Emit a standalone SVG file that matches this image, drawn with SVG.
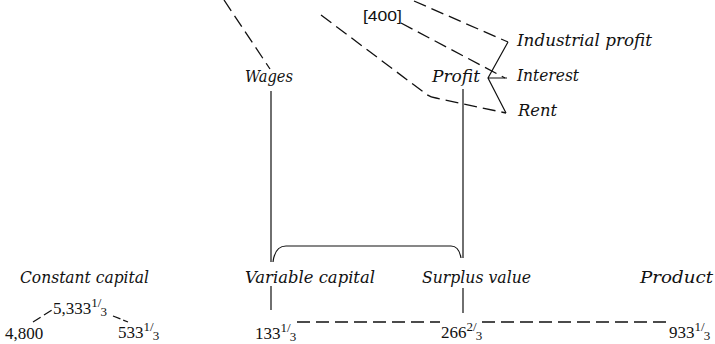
<svg xmlns="http://www.w3.org/2000/svg" width="715" height="344" viewBox="0 0 715 344">
<style>
.lab{font-family:"DejaVu Serif","Liberation Serif",serif;font-style:italic;font-size:16px;fill:#111}
.num{font-family:"Liberation Serif","DejaVu Serif",serif;font-size:17px;fill:#111}
.fr{font-size:13px}
.d{fill:none;stroke:#111;stroke-width:1.3;stroke-dasharray:13 6}
.s{fill:none;stroke:#111;stroke-width:1.2}
</style>
<rect width="715" height="344" fill="#fff"/>
<g id="connectors">
<path class="d" d="M224 0 L270 69"/>
<path class="d" d="M321 15 L426 94 Q430 97 436 98 L506 113"/>
<path class="d" d="M401 23 L505 78"/>
<path class="d" d="M414 1 L508 42"/>
<path class="s" d="M508 42 L488 78 L506 113 M488 78 L507 78"/>
<path class="s" d="M271 91 V262 M463 89 V258"/>
<path class="s" d="M273 262 Q275 246 286 246 H451 Q459 246 461 258"/>
<path class="s" d="M271 286 V310 M463 288 V313"/>
<path class="d" d="M297 322 H440 M482 322 H668"/>
<path class="d" d="M33 322 L52 310" style="stroke-dasharray:9 4"/>
<path class="d" d="M113 316 L128 322" style="stroke-dasharray:8 3"/>
</g>
<g id="n400"><text class="num" x="363" y="21" textLength="39" lengthAdjust="spacingAndGlyphs" style="font-family:'Liberation Sans','DejaVu Sans',sans-serif;font-size:15px">[400]</text></g>
<g id="industrial"><text class="lab" x="517" y="46" textLength="135" lengthAdjust="spacingAndGlyphs">Industrial profit</text></g>
<g id="interest"><text class="lab" x="517" y="81" textLength="62" lengthAdjust="spacingAndGlyphs">Interest</text></g>
<g id="rent"><text class="lab" x="518" y="116" textLength="39" lengthAdjust="spacingAndGlyphs">Rent</text></g>
<g id="wages"><text class="lab" x="245" y="82" textLength="48" lengthAdjust="spacingAndGlyphs">Wages</text></g>
<g id="profit"><text class="lab" x="432" y="82" textLength="48" lengthAdjust="spacingAndGlyphs">Profit</text></g>
<g id="constant"><text class="lab" x="20" y="283" textLength="129" lengthAdjust="spacingAndGlyphs">Constant capital</text></g>
<g id="variable"><text class="lab" x="245" y="283" textLength="130" lengthAdjust="spacingAndGlyphs">Variable capital</text></g>
<g id="surplus"><text class="lab" x="422" y="283" textLength="109" lengthAdjust="spacingAndGlyphs">Surplus value</text></g>
<g id="product"><text class="lab" x="640" y="283" textLength="73" lengthAdjust="spacingAndGlyphs">Product</text></g>
<g id="c5333"><text class="num" x="53" y="314">5,333<tspan class="fr" dy="-7">1/</tspan><tspan class="fr" dy="9" dx="-1">3</tspan></text></g>
<g id="c4800"><text class="num" x="5" y="339">4,800</text></g>
<g id="c533"><text class="num" x="118" y="338">533<tspan class="fr" dy="-7">1/</tspan><tspan class="fr" dy="9" dx="-1">3</tspan></text></g>
<g id="v133"><text class="num" x="255" y="339">133<tspan class="fr" dy="-7">1/</tspan><tspan class="fr" dy="9" dx="-1">3</tspan></text></g>
<g id="s266"><text class="num" x="441" y="338">266<tspan class="fr" dy="-7">2/</tspan><tspan class="fr" dy="9" dx="-1">3</tspan></text></g>
<g id="p933"><text class="num" x="669" y="338">933<tspan class="fr" dy="-7">1/</tspan><tspan class="fr" dy="9" dx="-1">3</tspan></text></g>
</svg>
